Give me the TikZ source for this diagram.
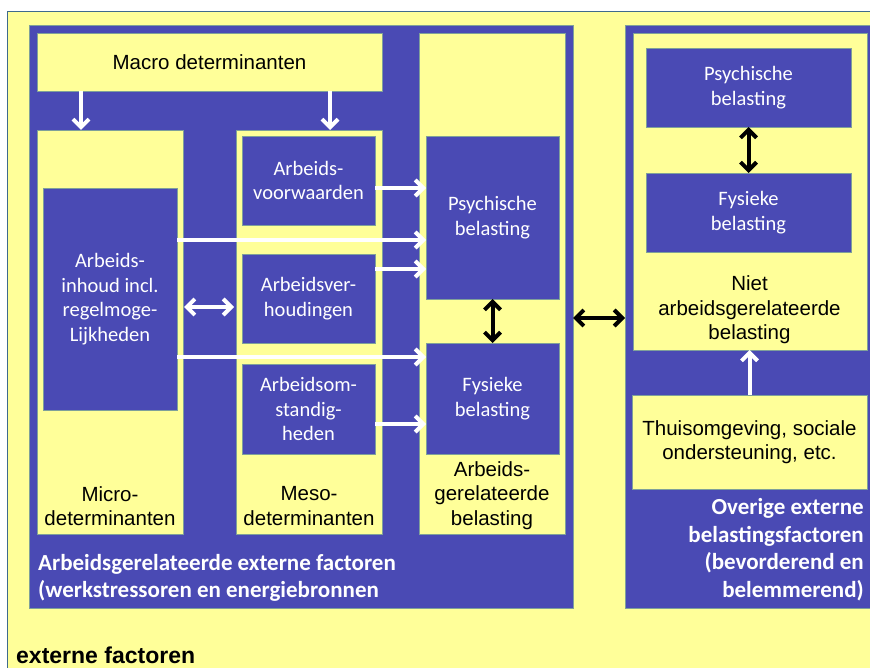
\documentclass[tikz,border=0pt]{standalone}
\usepackage{fontspec}
\usetikzlibrary{arrows.meta,calc}
\newfontfamily\arialf{Liberation Sans}
\newfontfamily\calif{Carlito}
\definecolor{yel}{HTML}{FFFF99}
\definecolor{blu}{HTML}{4A4AB4}
\definecolor{edgec}{HTML}{7FA09A}
\definecolor{framec}{HTML}{3F6A8C}
\begin{document}
\begin{tikzpicture}[x=1pt,y=-1pt,
  ybox/.style={fill=yel,draw=edgec,line width=0.6pt,inner sep=0pt,outer sep=0pt,
    align=center,font=\arialf\fontsize{20.5}{24.6}\selectfont},
  bbox/.style={fill=blu,draw=edgec,line width=0.6pt,inner sep=0pt,outer sep=0pt,
    text=white,align=center,font=\calif\fontsize{20.5}{24.5}\selectfont},
  blktxt/.style={inner sep=0pt,align=center,font=\arialf\fontsize{20.5}{24.6}\selectfont},
  boldwhite/.style={inner sep=0pt,text=white,font=\calif\bfseries\fontsize{23}{27.5}\selectfont},
  warrow/.style={draw=white,line width=4pt,-{Straight Barb[length=8pt,width=16pt]}},
  wdarrow/.style={draw=white,line width=4pt,{Straight Barb[length=8pt,width=16pt]}-{Straight Barb[length=8pt,width=16pt]}},
  bdarrow/.style={draw=black,line width=4pt,{Straight Barb[length=8pt,width=16pt]}-{Straight Barb[length=8pt,width=16pt]}}
]
\useasboundingbox (0,0) rectangle (870,668);
\clip (0,0) rectangle (870,668);
\fill[white] (0,0) rectangle (870,668);
\draw[fill=yel,draw=framec,line width=0.8pt] (7,11) rectangle (890,690);

% left panel
\node[bbox,minimum width=544pt,minimum height=583pt] (lpanel) at (301,316.5) {};
\node[ybox,minimum width=345pt,minimum height=58pt] (macro) at (209.5,62) {Macro determinanten};
\node[ybox,minimum width=146pt,minimum height=404pt] (micro) at (110,332) {};
\node[bbox,minimum width=134pt,minimum height=222pt] (inhoud) at (110,299) {Arbeids-\\inhoud incl.\\regelmoge-\\Lijkheden};
\node[ybox,minimum width=146pt,minimum height=404pt] (meso) at (309,332) {};
\node[bbox,minimum width=133pt,minimum height=89pt] (voorw) at (308.5,180.5) {Arbeids-\\voorwaarden};
\node[bbox,minimum width=133pt,minimum height=89pt] (verh) at (308.5,298.5) {Arbeidsver-\\houdingen};
\node[bbox,minimum width=133pt,minimum height=90pt] (omst) at (308.5,409) {Arbeidsom-\\standig-\\heden};
\node[ybox,minimum width=146pt,minimum height=501pt] (arbg) at (492,283.5) {};
\node[bbox,minimum width=133pt,minimum height=163pt] (psy) at (492.5,217.5) {Psychische\\belasting};
\node[bbox,minimum width=133pt,minimum height=111pt] (fys) at (492.5,398.5) {Fysieke\\belasting};

\node[blktxt] (microlbl) at (110,506) {Micro-\\determinanten};
\node[blktxt] (mesolbl) at (309,506) {Meso-\\determinanten};
\node[blktxt] (arbglbl) at (492,495.5) {Arbeids-\\gerelateerde\\belasting};
\node[boldwhite,anchor=west,align=left] (leftlbl) at (38,578) {Arbeidsgerelateerde externe factoren\\(werkstressoren en energiebronnen};

% right panel
\node[bbox,minimum width=250pt,minimum height=583pt] (rpanel) at (750,316.5) {};
\node[ybox,minimum width=234pt,minimum height=317pt] (niet) at (750,191.5) {};
\node[bbox,minimum width=205pt,minimum height=79pt] (rpsy) at (748.5,87.5) {Psychische\\belasting};
\node[bbox,minimum width=205pt,minimum height=79pt] (rfys) at (748.5,212.5) {Fysieke\\belasting};
\node[blktxt] (nietlbl) at (749.5,310) {Niet\\arbeidsgerelateerde\\belasting};
\node[ybox,minimum width=235pt,minimum height=94pt] (thuis) at (749.5,442) {Thuisomgeving, sociale\\ondersteuning, etc.};
\node[boldwhite,anchor=east,align=right] (rightlbl) at (864,549.5) {Overige externe\\belastingsfactoren\\(bevorderend en\\belemmerend)};

\node[inner sep=0pt,anchor=base west,font=\arialf\bfseries\fontsize{23}{27}\selectfont] (ext) at (16,663.5) {externe factoren};

% white arrows
\draw[warrow] ([xshift=-29pt]micro.north |- macro.south) -- ([xshift=-29pt]micro.north);
\draw[warrow] ([xshift=21pt]meso.north |- macro.south) -- ([xshift=21pt]meso.north);
\draw[warrow] ([yshift=-7.5pt]voorw.east) -- ([yshift=-7.5pt]voorw.east -| psy.west);
\draw[warrow] ([yshift=59pt]inhoud.east) -- ([yshift=59pt]inhoud.east -| psy.west);
\draw[warrow] ([yshift=29.5pt]verh.east) -- ([yshift=29.5pt]verh.east -| psy.west);
\draw[warrow] ([yshift=-58pt]inhoud.east) -- ([yshift=-58pt]inhoud.east -| fys.west);
\draw[warrow] ([yshift=-15pt]omst.east) -- ([yshift=-15pt]omst.east -| fys.west);
\draw[wdarrow] ([yshift=25pt,xshift=1pt]micro.east) -- ([yshift=25pt,xshift=-2pt]micro.east -| meso.west);
\draw[warrow] (thuis.north) -- (thuis.north |- niet.south);

% black arrows
\draw[bdarrow] (psy.south) -- (psy.south |- fys.north);
\draw[bdarrow] (rpsy.south) -- (rpsy.south |- rfys.north);
\draw[bdarrow] ([yshift=-1.5pt]lpanel.east) -- ([yshift=-1.5pt]lpanel.east -| rpanel.west);
\end{tikzpicture}
\end{document}
